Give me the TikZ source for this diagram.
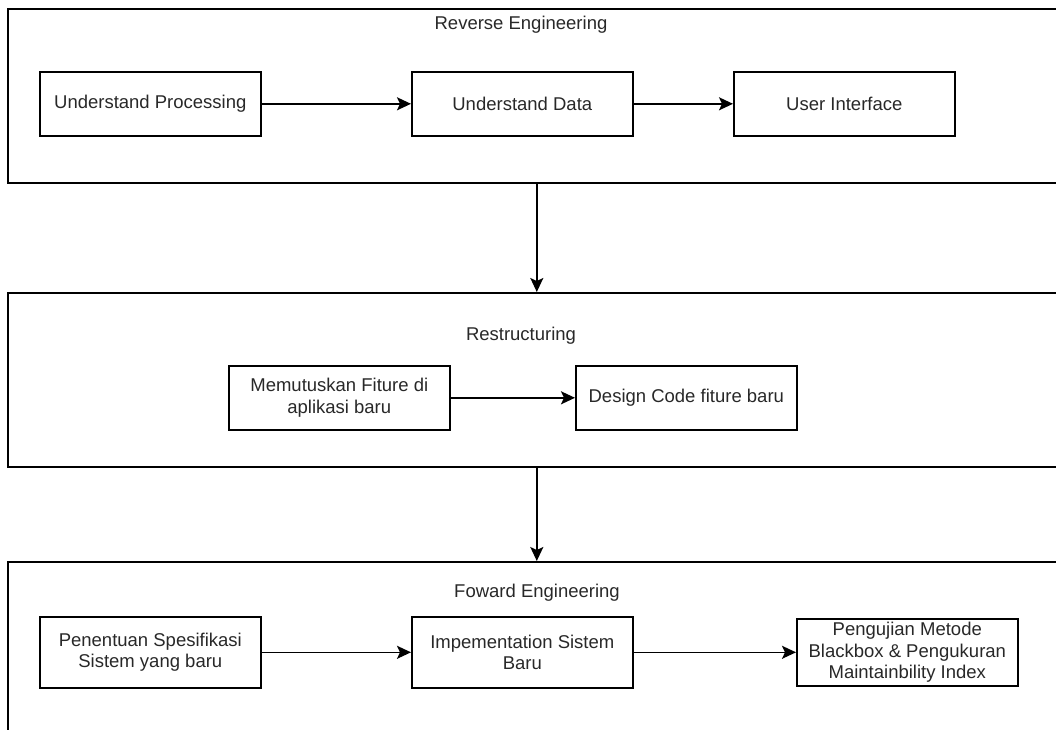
\documentclass[tikz,border=0pt]{standalone}
\usepackage{fontspec}
\setmainfont{Liberation Sans}
\usetikzlibrary{arrows.meta}
\definecolor{txt}{RGB}{40,40,40}
\begin{document}
\begin{tikzpicture}[x=1pt,y=-1pt,
  every node/.style={font=\fontsize{18.5}{21.5}\selectfont, text=txt},
  container/.style={draw=black, line width=1.6pt, anchor=north west, inner sep=0pt},
  box/.style={draw=black, line width=1.6pt, anchor=north west, inner sep=0pt, minimum width=221pt, align=center},
  title/.style={inner sep=0pt},
  arr/.style={draw=black, line width=1.6pt, -{Stealth[length=14pt,width=13pt,inset=3pt]}}
]
\useasboundingbox (0,0) rectangle (1056,729);
\clip (0,0) rectangle (1056,729);
% containers
\node[container, minimum width=1058pt, minimum height=174pt] (re) at (7,8) {};
\node[container, minimum width=1058pt, minimum height=174pt] (rs) at (7,292) {};
\node[container, minimum width=1058pt, minimum height=200pt] (fe) at (7,561) {};
% titles
\node[title] (tre) at (521,25) {Reverse Engineering};
\node[title] (trs) at (521,336) {Restructuring};
\node[title] (tfe) at (537,593) {Foward Engineering};
% top row
\node[box, minimum height=64pt] (up) at (39,71) {Understand Processing};
\node[box, minimum height=64pt] (ud) at (411,71) {Understand Data};
\node[box, minimum height=64pt] (ui) at (733,71) {User Interface};
% middle row
\node[box, minimum height=64pt] (mf) at (228,365) {Memutuskan Fiture di\\aplikasi baru};
\node[box, minimum height=64pt] (dc) at (575,365) {Design Code fiture baru};
% bottom row
\node[box, minimum height=71pt] (ps) at (39,616) {Penentuan Spesifikasi\\Sistem yang baru};
\node[box, minimum height=71pt] (is) at (411,616) {Impementation Sistem\\Baru};
\node[box, minimum height=67pt] (pm) at (796,618) {Pengujian Metode\\Blackbox \& Pengukuran\\Maintainbility Index};
% connectors
\draw[arr] (up) -- (ud);
\draw[arr] (ud) -- (ui);
\draw[arr] (mf) -- (dc);
\draw[arr] (ps.east) -- (is.west);
\draw[arr] (is.east) -- (pm.west |- is.east);
\draw[arr] (re.south) -- (rs.north);
\draw[arr] (rs.south) -- (fe.north);
\end{tikzpicture}
\end{document}
